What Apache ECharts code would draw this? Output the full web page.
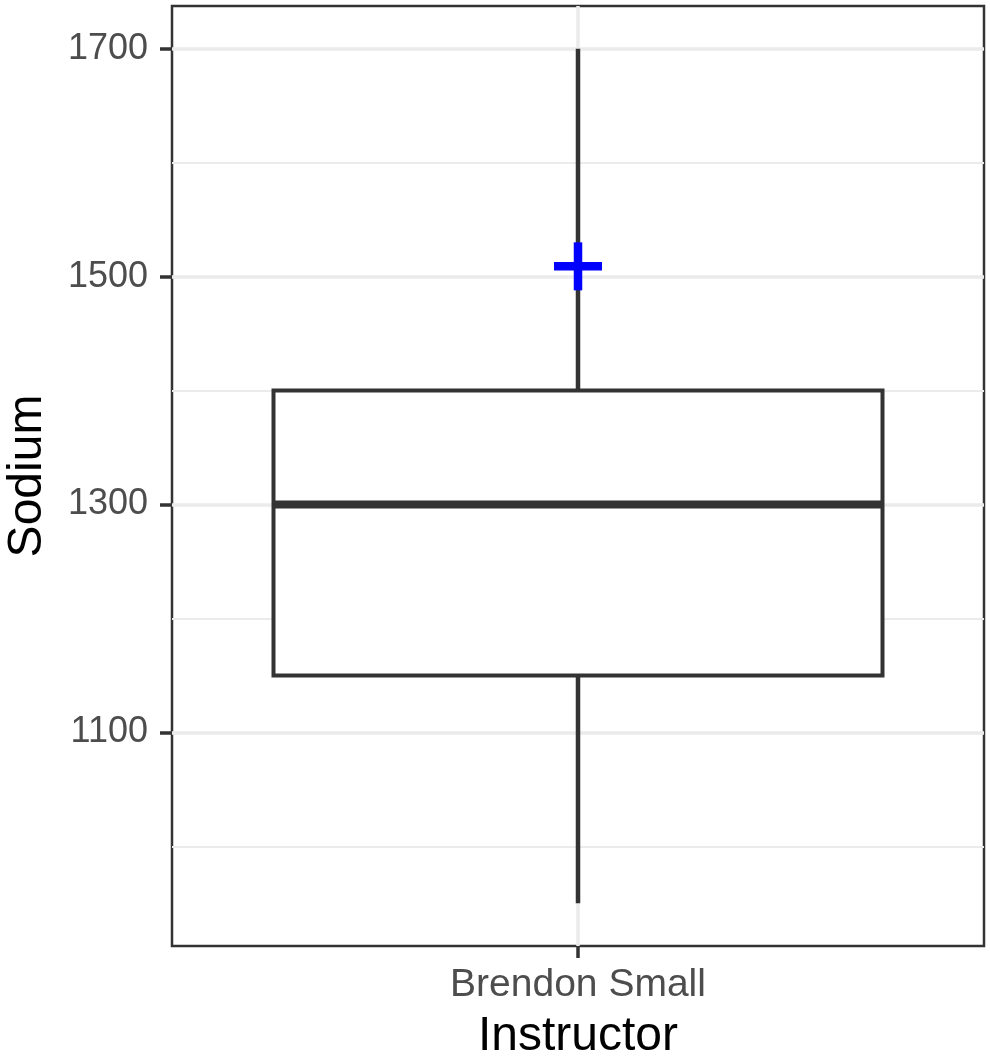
<!DOCTYPE html>
<html>
<head>
<meta charset="utf-8">
<script src="https://cdn.jsdelivr.net/npm/echarts@6/dist/echarts.min.js"></script>
<style>
html,body{margin:0;padding:0;background:#fff;}
#chart{width:990px;height:1058px;}
</style>
</head>
<body>
<div id="chart"></div>
<script>
// ---- data ----
const categories = ['Brendon Small'];
// [min, Q1, median, Q3, max]
const boxStats = [[950, 1150, 1300, 1400, 1700]];
const meanValues = [1509];
const yTickLabels = [1100, 1300, 1500, 1700];
const yMinorTicks = [1000, 1200, 1400, 1600];
const yRange = [912.5, 1737.5];

const boxData = boxStats.map((s, i) => [i].concat(s));
const meanData = meanValues.map((m, i) => [i, m]);

const chart = echarts.init(document.getElementById('chart'), null, {renderer: 'canvas'});
const FONT = 'Liberation Sans, Arial, Helvetica, sans-serif';

const option = {
  animation: false,
  backgroundColor: '#ffffff',
  grid: {
    left: 172, right: 6, top: 6, bottom: 112,
    containLabel: false,
    outerBoundsMode: 'none',
    show: true, borderColor: '#333333', borderWidth: 2.5, backgroundColor: '#ffffff'
  },
  xAxis: {
    type: 'category',
    data: categories,
    boundaryGap: true,
    name: 'Instructor',
    nameLocation: 'middle',
    nameGap: 67,
    nameTextStyle: {fontSize: 48, color: '#000000', fontFamily: FONT},
    axisLine: {show: false},
    axisTick: {show: true, alignWithLabel: true, length: 12, lineStyle: {color: '#333333', width: 3.5}},
    axisLabel: {fontSize: 39, color: '#4d4d4d', fontFamily: FONT, margin: 20},
    splitLine: {show: false}
  },
  yAxis: {
    type: 'value',
    min: yRange[0], max: yRange[1],
    name: 'Sodium',
    nameLocation: 'middle',
    nameGap: 120,
    nameRotate: 90,
    nameTextStyle: {fontSize: 48, color: '#000000', fontFamily: FONT},
    axisLine: {show: false},
    axisTick: {show: true, customValues: yTickLabels, length: 12, lineStyle: {color: '#333333', width: 3.5}},
    axisLabel: {customValues: yTickLabels, formatter: v => String(v), fontSize: 36, color: '#4d4d4d', fontFamily: FONT, margin: 24},
    splitLine: {show: false},
    minorSplitLine: {show: false}
  },
  series: [
    {
      type: 'line',
      data: [],
      z: 1,
      silent: true,
      markLine: {
        z: 1,
        silent: true,
        symbol: ['none', 'none'],
        label: {show: false},
        animation: false,
        data: yMinorTicks.map(v => ({yAxis: v, lineStyle: {color: '#ebebeb', width: 2, type: 'solid'}}))
          .concat(yTickLabels.map(v => ({yAxis: v, lineStyle: {color: '#ebebeb', width: 3.5, type: 'solid'}})))
          .concat(categories.map(c => ({xAxis: c, lineStyle: {color: '#ebebeb', width: 3.5, type: 'solid'}})))
      }
    },
    {
      type: 'custom',
      z: 3,
      clip: false,
      data: boxData,
      encode: {x: 0, y: [1, 2, 3, 4, 5]},
      renderItem: function (params, api) {
        const xi = api.value(0);
        const pMin = api.coord([xi, api.value(1)]);
        const pQ1 = api.coord([xi, api.value(2)]);
        const pMed = api.coord([xi, api.value(3)]);
        const pQ3 = api.coord([xi, api.value(4)]);
        const pMax = api.coord([xi, api.value(5)]);
        const bw = api.size([1, 0])[0] * 0.75;
        const cx = pMed[0];
        const stroke = '#333333';
        return {
          type: 'group',
          children: [
            {type: 'line', shape: {x1: cx, y1: pQ3[1], x2: cx, y2: pMax[1]}, style: {stroke: stroke, lineWidth: 4.5}},
            {type: 'line', shape: {x1: cx, y1: pQ1[1], x2: cx, y2: pMin[1]}, style: {stroke: stroke, lineWidth: 4.5}},
            {type: 'rect', shape: {x: cx - bw / 2, y: pQ3[1], width: bw, height: pQ1[1] - pQ3[1]},
             style: {fill: '#ffffff', stroke: stroke, lineWidth: 4}},
            {type: 'line', shape: {x1: cx - bw / 2, y1: pMed[1], x2: cx + bw / 2, y2: pMed[1]}, style: {stroke: stroke, lineWidth: 8}}
          ]
        };
      }
    },
    {
      type: 'custom',
      z: 4,
      clip: false,
      data: meanData,
      encode: {x: 0, y: 1},
      renderItem: function (params, api) {
        const p = api.coord([api.value(0), api.value(1)]);
        const h = 24;
        return {
          type: 'group',
          children: [
            {type: 'line', shape: {x1: p[0] - h, y1: p[1], x2: p[0] + h, y2: p[1]}, style: {stroke: '#0000ff', lineWidth: 8.5}},
            {type: 'line', shape: {x1: p[0], y1: p[1] - h, x2: p[0], y2: p[1] + h}, style: {stroke: '#0000ff', lineWidth: 8.5}}
          ]
        };
      }
    }
  ]
};
chart.setOption(option);
</script>
</body>
</html>
